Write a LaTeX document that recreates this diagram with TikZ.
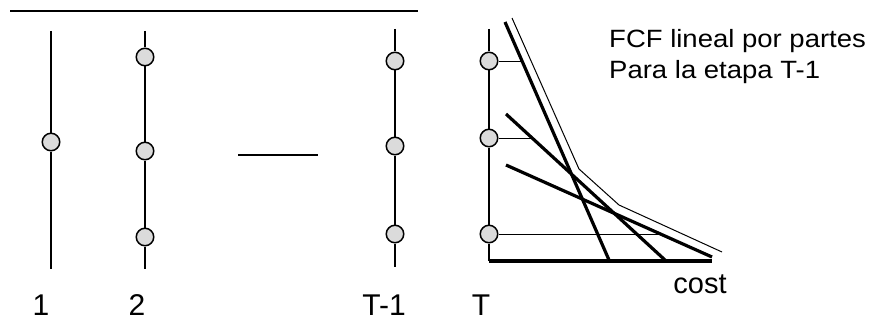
\documentclass[tikz,border=0pt]{standalone}
\usepackage{fontspec}
\setmainfont{Liberation Sans}
\usetikzlibrary{calc}

\begin{document}
\begin{tikzpicture}[x=1pt,y=-1pt,
	stage/.style={line width=2.2pt},
	state/.style={circle,draw,fill=gray!28,line width=1.5pt,minimum size=17.5pt,inner sep=0pt},
	cut/.style={line width=3.2pt},
	level/.style={line width=0.9pt},
	big/.style={font=\fontsize{30}{30}\selectfont,anchor=base},
	note/.style={font=\fontsize{25}{31}\selectfont,anchor=base west,inner sep=0pt}]
	\useasboundingbox (0,0) rectangle (870,321);
	
	\coordinate (L) at (10,11);
	\coordinate (R) at (418,11);
	\draw[line width=1.8pt] (L) -- (R);
	
	\coordinate (s1t) at (51,31);
	\coordinate (s1b) at (51,269);
	\node[state] (s1m) at (51,142) {};
	\draw[stage] (s1t) -- (s1m) -- (s1b);
	
	\coordinate (s2t) at (145,31);
	\coordinate (s2b) at (145,269);
	\node[state] (s2a) at (145,57) {};
	\node[state] (s2m) at (145,151) {};
	\node[state] (s2c) at (145,237) {};
	\draw[stage] (s2t) -- (s2a) -- (s2m) -- (s2c) -- (s2b);
	
	\coordinate (gl) at (238,155);
	\coordinate (gr) at (318,155);
	\draw[line width=1.2pt] (gl) -- (gr);
	
	\coordinate (s3t) at (395,29);
	\coordinate (s3b) at (395,267);
	\node[state] (s3a) at (395,61) {};
	\node[state] (s3m) at (395,146) {};
	\node[state] (s3c) at (395,234) {};
	\draw[stage] (s3t) -- (s3a) -- (s3m) -- (s3c) -- (s3b);
	
	\coordinate (tt) at (489,29);
	\coordinate (O) at (489,261);
	\coordinate (X) at (712,261);
	\node[state] (ta) at (489,61) {};
	\node[state] (tm) at (489,138) {};
	\node[state] (tc) at (489,234) {};
	\draw[stage] (tt) -- (ta) -- (tm) -- (tc) -- (O);
	\draw[cut] (O) -- (X);
	
	\coordinate (A1) at (505,22);
	\coordinate (A2) at (609,260);
	\coordinate (B1) at (506,114);
	\coordinate (B2) at (665,260);
	\coordinate (C1) at (506,165);
	\coordinate (C2) at (712,257);
	\draw[cut] (A1) -- (A2);
	\draw[cut] (B1) -- (B2);
	\draw[cut] (C1) -- (C2);
	
	\coordinate (ha) at (522,61);
	\coordinate (hm) at (532,138);
	\coordinate (hc) at (660,234);
	\draw[level] (ta) -- (ha);
	\draw[level] (tm) -- (hm);
	\draw[level] (tc) -- (hc);
	
	\coordinate (F1) at (512,18);
	\coordinate (F2) at (579,169);
	\coordinate (F3) at (619,205);
	\coordinate (F4) at (722,252);
	\draw[line width=1pt] (F1) -- (F2) -- (F3) -- (F4);
	
	\node[big] (n1) at (41,315) {1};
	\node[big] (n2) at (137,315) {2};
	\node[big] (n3) at (384,315) {T-1};
	\node[big] (n4) at (481,315) {T};
	\node[font=\fontsize{29}{29}\selectfont,anchor=base] (cost) at (700,293) {cost};
	\node[note] (fcf) at (609,48) {\scalebox{1.1}[1]{FCF lineal por partes}};
	\node[note] (eta) at (609,78) {\scalebox{1.1}[1]{Para la etapa T-1}};
\end{tikzpicture}
\end{document}
